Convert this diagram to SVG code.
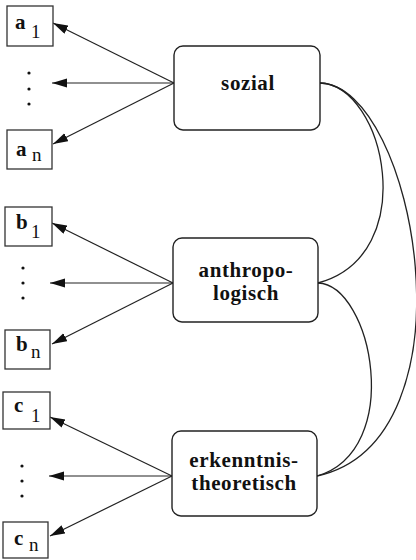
<svg xmlns="http://www.w3.org/2000/svg" width="416" height="560" viewBox="0 0 416 560">
<style>
.leaf{fill:#fff;stroke:#333;stroke-width:1.3}
.node{fill:#fff;stroke:#222;stroke-width:1.4}
.lbl{font-family:"Liberation Serif",serif;font-weight:bold;font-size:21px;letter-spacing:0.6px;fill:#111;text-anchor:middle}
.v{font-family:"Liberation Serif",serif;font-weight:bold;font-size:21px;fill:#111}
.s{font-family:"Liberation Serif",serif;font-size:19px;fill:#111}
.arr{stroke:#222;stroke-width:1.2;fill:none;marker-end:url(#ah)}
.cur{stroke:#222;stroke-width:1.3;fill:none}
.dot{fill:#111}
</style>
<defs>
<marker id="ah" markerUnits="userSpaceOnUse" markerWidth="16" markerHeight="10" refX="15" refY="4.5" orient="auto">
<path d="M0,0 L15,4.5 L0,9 z" fill="#111"/>
</marker>
</defs>
<rect width="416" height="560" fill="#fff"/>
<g id="connectors">
<line class="arr" x1="174" y1="83" x2="53" y2="23"/>
<line class="arr" x1="174" y1="83" x2="52" y2="83"/>
<line class="arr" x1="174" y1="83" x2="53" y2="144"/>
<line class="arr" x1="173" y1="283" x2="52" y2="223"/>
<line class="arr" x1="173" y1="283" x2="50" y2="283"/>
<line class="arr" x1="173" y1="283" x2="52" y2="344"/>
<line class="arr" x1="172" y1="476" x2="50" y2="417"/>
<line class="arr" x1="172" y1="476" x2="49" y2="476"/>
<line class="arr" x1="172" y1="476" x2="50" y2="536"/>
<path class="cur" d="M320,83 C385,85 422,255 318,283"/>
<path class="cur" d="M320,83 C415,85 480,440 317,476"/>
<path class="cur" d="M318,283 C372,285 405,450 317,476"/>
</g>
<g id="dots">
<circle class="dot" cx="29" cy="73" r="1.6"/><circle class="dot" cx="29" cy="89" r="1.6"/><circle class="dot" cx="29" cy="104" r="1.6"/>
<circle class="dot" cx="23" cy="268" r="1.6"/><circle class="dot" cx="23" cy="283" r="1.6"/><circle class="dot" cx="23" cy="298" r="1.6"/>
<circle class="dot" cx="22" cy="466" r="1.6"/><circle class="dot" cx="22" cy="481" r="1.6"/><circle class="dot" cx="22" cy="496" r="1.6"/>
</g>
<g id="sozial"><rect class="node" x="174" y="46" width="146" height="84" rx="9"/><text class="lbl" x="248" y="90">sozial</text></g>
<g id="anthropologisch"><rect class="node" x="173" y="238" width="145" height="84" rx="9"/><text class="lbl" x="246" y="277">anthropo-</text><text class="lbl" x="246" y="300">logisch</text></g>
<g id="erkenntnistheoretisch"><rect class="node" x="172" y="431" width="145" height="85" rx="9"/><text class="lbl" x="244" y="467">erkenntnis-</text><text class="lbl" x="244" y="490">theoretisch</text></g>
<g id="a1"><rect class="leaf" x="7" y="6" width="46" height="40"/><text class="v" x="15" y="29">a</text><text class="s" x="31" y="38">1</text></g>
<g id="an"><rect class="leaf" x="7" y="130" width="45" height="39"/><text class="v" x="16" y="156">a</text><text class="s" x="32" y="161">n</text></g>
<g id="b1"><rect class="leaf" x="5" y="207" width="47" height="39"/><text class="v" x="16" y="229">b</text><text class="s" x="31" y="238">1</text></g>
<g id="bn"><rect class="leaf" x="5" y="330" width="45" height="39"/><text class="v" x="16" y="351">b</text><text class="s" x="31" y="358">n</text></g>
<g id="c1"><rect class="leaf" x="3" y="392" width="47" height="37"/><text class="v" x="14" y="412">c</text><text class="s" x="31" y="422">1</text></g>
<g id="cn"><rect class="leaf" x="3" y="522" width="45" height="36"/><text class="v" x="14" y="545">c</text><text class="s" x="29" y="551">n</text></g>
</svg>
